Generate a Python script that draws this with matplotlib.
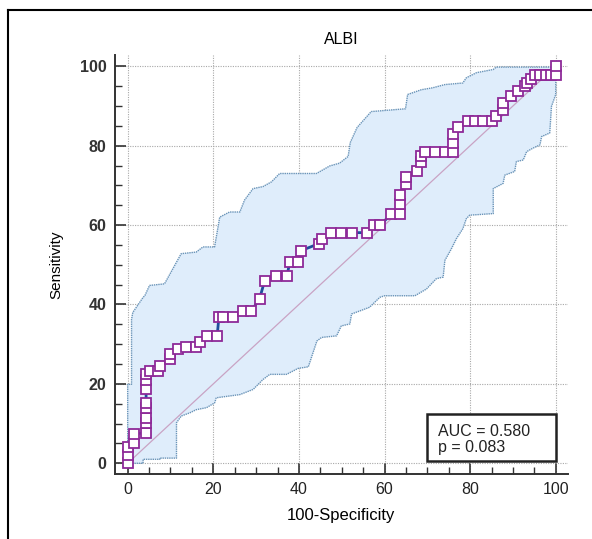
import matplotlib
matplotlib.use("Agg")
import matplotlib.pyplot as plt
from matplotlib.lines import Line2D

plt.rcParams['font.family'] = ['Liberation Sans', 'DejaVu Sans']

# ROC points (100-Specificity, Sensitivity)
fpr = [0, 0, 0, 1.5, 1.5, 4.3, 4.3, 4.3, 4.3, 4.3, 4.3, 4.3, 4.3, 5.2, 7.0, 7.5,
       9.8, 9.8, 11.8, 13.7, 15.9, 17.0, 18.6, 20.9, 21.3, 22.2, 24.5, 26.9, 28.9,
       30.8, 32.0, 34.7, 37.2, 37.9, 39.8, 40.6, 44.6, 45.5, 47.6, 49.9, 52.3, 55.9,
       57.5, 58.9, 61.6, 63.5, 63.5, 63.5, 65.1, 65.1, 67.6, 68.6, 68.6, 69.4, 71.7,
       74.1, 76.0, 76.0, 76.0, 77.2, 79.5, 81.1, 83.0, 85.0, 86.1, 87.7, 87.7, 89.6,
       91.2, 92.8, 93.4, 94.3, 95.1, 96.3, 97.8, 99.0, 100, 100]
tpr = [0, 2.1, 4.2, 5.0, 7.4, 7.7, 10.2, 11.5, 14.0, 15.3, 18.6, 21.0, 22.4, 23.2,
       23.2, 24.5, 26.2, 27.5, 28.7, 29.2, 29.2, 30.6, 32.0, 32.0, 36.8, 36.8, 36.8,
       38.4, 38.4, 41.4, 46.0, 47.3, 47.3, 50.7, 50.7, 53.6, 55.3, 56.4, 58.1, 58.1,
       58.1, 58.1, 60.0, 60.0, 62.7, 62.7, 65.4, 67.7, 70.3, 72.2, 73.6, 76.0, 77.3,
       78.3, 78.3, 78.3, 78.3, 80.8, 83.0, 84.6, 86.1, 86.1, 86.1, 86.1, 87.4, 89.0,
       90.8, 92.5, 93.7, 95.0, 95.8, 96.8, 97.9, 97.9, 97.9, 97.9, 97.9, 100]

# confidence band
upper_x = [0, 0, 0.9, 0.9, 1.2, 3.6, 4.0, 5.1, 8.6, 12.5, 16.0, 17.6, 20.3, 21.5,
           23.8, 26.2, 27.3, 29.3, 31.6, 33.6, 35.5, 44.1, 47.2, 49.5, 51.5, 52.0,
           53.6, 56.9, 64.9, 65.4, 68.6, 71.3, 74.1, 78.3, 79.1, 81.5, 85.4, 86.1,
           100, 100]
upper_y = [0, 19.9, 19.9, 36.3, 38.0, 41.8, 42.2, 44.8, 45.2, 52.8, 53.2, 54.5,
           54.5, 62.0, 63.3, 63.3, 66.3, 69.2, 69.7, 70.9, 73.0, 73.0, 74.9, 75.6,
           77.3, 80.8, 84.6, 88.6, 89.3, 92.9, 94.1, 94.6, 95.4, 95.8, 97.1, 98.4,
           99.2, 99.8, 99.8, 100]
lower_x = [0, 3.6, 3.6, 7.5, 7.5, 11.4, 11.4, 12.5, 14.5, 16.0, 18.4, 20.3, 20.7,
           26.2, 29.3, 31.6, 33.2, 37.1, 39.8, 42.2, 44.2, 45.3, 48.8, 49.9, 51.9,
           52.3, 56.5, 58.9, 60.0, 67.1, 69.8, 72.1, 73.7, 74.1, 75.6, 76.8, 78.3,
           79.1, 79.9, 85.4, 85.4, 87.7, 88.1, 90.4, 90.8, 92.4, 93.2, 94.7, 96.3,
           96.7, 98.6, 99.0, 100, 100]
lower_y = [0, 0, 1.0, 1.0, 1.3, 1.3, 10.2, 11.9, 12.7, 13.5, 14.0, 15.2, 16.5,
           17.3, 18.6, 21.1, 22.4, 22.4, 23.9, 24.3, 30.8, 31.7, 32.1, 34.6, 35.1,
           37.6, 39.3, 41.8, 42.2, 42.2, 43.9, 46.5, 46.9, 51.1, 54.0, 56.6, 59.1,
           61.6, 62.5, 62.9, 69.2, 70.5, 72.6, 73.5, 76.0, 76.4, 78.5, 79.4, 80.2,
           82.3, 83.2, 89.9, 92.9, 100]

auc_text = "AUC = 0.580\np = 0.083"

fig = plt.figure(figsize=(5.92, 5.39), dpi=100)
ax = fig.add_axes([0.194, 0.1206, 0.765, 0.777])

# band
ax.fill(upper_x + lower_x[::-1], upper_y + lower_y[::-1], color='#dfedfb', lw=0, zorder=1)
ax.plot(upper_x, upper_y, color='#6a94b8', lw=1.0, ls=(0, (1, 0.6)), zorder=2)
ax.plot(lower_x, lower_y, color='#6a94b8', lw=1.0, ls=(0, (1, 0.6)), zorder=2)

# diagonal reference
ax.plot([0, 100], [0, 100], color='#c9a3c4', lw=0.9, zorder=3)

# roc curve
ax.plot(fpr, tpr, color='#1f4e9c', lw=2, zorder=4)
ax.plot(fpr, tpr, ls='none', marker='s', markersize=7.5, markerfacecolor='white',
        markeredgecolor='#8e2a98', markeredgewidth=1.3, zorder=5)

ax.set_xlim(-3, 102.8)
ax.set_ylim(-2.7, 102.8)
ax.set_xticks(range(0, 101, 20))
ax.set_yticks(range(0, 101, 20))
ax.set_xticks(range(0, 101, 5), minor=True)
ax.set_yticks(range(0, 101, 5), minor=True)
ax.grid(True, which='major', color='#a8a8a8', ls=(0, (1, 1.2)), lw=0.8, zorder=0)
ax.set_axisbelow(True)

for s in ['top', 'right']:
    ax.spines[s].set_visible(False)
for s in ['left', 'bottom']:
    ax.spines[s].set_color('#333333')
    ax.spines[s].set_linewidth(1.4)

ax.tick_params(which='major', direction='in', length=8, width=1.2, color='#333333')
ax.tick_params(which='minor', direction='in', length=5, width=1.0, color='#333333')
ax.tick_params(axis='x', labelsize=11.5, pad=6, labelcolor='#222222')
ax.tick_params(axis='y', labelsize=11.5, pad=6, labelcolor='#333333')
for lab in ax.get_yticklabels():
    lab.set_fontweight('bold')

ax.set_title('ALBI', fontsize=11.5, pad=8)
ax.set_xlabel('100-Specificity', fontsize=12, labelpad=8)
ax.set_ylabel('Sensitivity', fontsize=11, labelpad=12)

ax.text(72.5, 2.0, auc_text, fontsize=11.5, linespacing=1.15, ha='left', va='bottom',
        zorder=7, color='#222222')
ax.add_patch(plt.Rectangle((70.0, 0.6), 30.0, 11.8, fill=True, facecolor='white',
                           edgecolor='#222222', lw=1.8, zorder=6))

# frame around the picture
fig.add_artist(Line2D([8 / 592, 1], [1 - 10 / 539, 1 - 10 / 539], color='black', lw=1.5))
fig.add_artist(Line2D([8 / 592, 8 / 592], [0, 1 - 10 / 539], color='black', lw=1.5))

fig.savefig('out.png', dpi=100)
